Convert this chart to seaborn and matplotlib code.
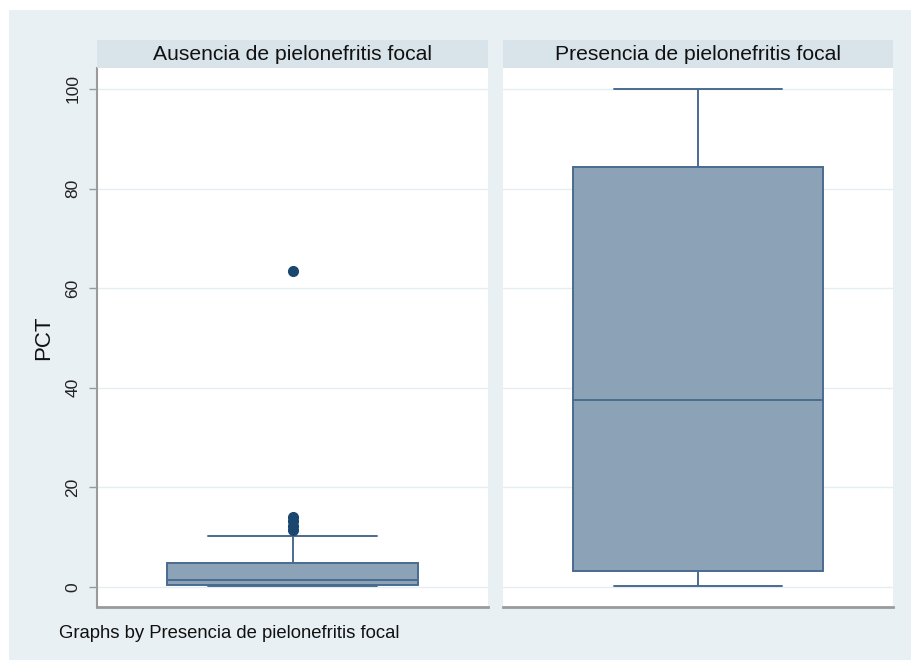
import numpy as np
import pandas as pd
import matplotlib
matplotlib.use("Agg")
import matplotlib.pyplot as plt
import seaborn as sns
from matplotlib.patches import Rectangle

# ---- data ----
panels = ["Ausencia de pielonefritis focal", "Presencia de pielonefritis focal"]
pct_ausencia = [0.2, 0.3, 0.3, 0.4, 0.4, 0.5, 0.5, 0.7, 0.9, 1.0, 1.2, 1.4, 1.5,
                1.8, 2.2, 2.7, 3.3, 4.0, 4.8, 10.2, 11.4, 12.3, 13.2, 14.0, 63.5]
pct_presencia = [0.3, 0.5, 0.8, 1.2, 1.8, 2.5, 3.2, 6.0, 10.0, 15.0, 21.0, 29.0, 37.5,
                 45.0, 52.0, 60.0, 68.0, 76.0, 84.3, 88.0, 91.0, 94.0, 96.5, 98.5, 100.0]
yticks = [0, 20, 40, 60, 80, 100]
ylabel = "PCT"
footer = "Graphs by Presencia de pielonefritis focal"

df = pd.DataFrame({
    "grupo": [panels[0]] * len(pct_ausencia) + [panels[1]] * len(pct_presencia),
    "PCT": pct_ausencia + pct_presencia,
})

sns.set_theme(style="white")
plt.rcParams["font.family"] = ["Liberation Sans", "DejaVu Sans"]

BG = "#e8f0f3"
STRIP = "#d8e4ea"
FACE = "#8ca2b7"
EDGE = "#4a6b90"
DOT = "#1a476f"
GRID = "#e4edf0"
AX = "#9a9a9a"

W, H = 911, 660
fig = plt.figure(figsize=(W / 100, H / 100), dpi=100, facecolor=BG)
# white margins top and left
fig.patches.append(Rectangle((0, 1 - 10 / H), 1, 10 / H, transform=fig.transFigure,
                             facecolor="white", edgecolor="none", zorder=-1))
fig.patches.append(Rectangle((0, 0), 9 / W, 1, transform=fig.transFigure,
                             facecolor="white", edgecolor="none", zorder=-1))

def fx(px):
    return px / W

def fy(py):
    return 1 - py / H

lefts = [97, 503]
rights = [488, 893]
top_plot, bot_plot = 68, 607
strip_top = 40

for i, name in enumerate(panels):
    l, r = lefts[i], rights[i]
    ax = fig.add_axes([fx(l), fy(bot_plot), fx(r - l), (bot_plot - top_plot) / H])
    ax.set_facecolor("white")
    sub = df[df["grupo"] == name]
    sns.boxplot(data=sub, y="PCT", ax=ax, width=0.64, saturation=1,
                color=FACE, linecolor=EDGE, linewidth=1.4, whis=1.5,
                flierprops=dict(marker="o", markerfacecolor=DOT, markeredgecolor=DOT,
                                markersize=7),
                medianprops=dict(color=EDGE, linewidth=1.4),
                capwidths=0.43)
    ax.set_xlim(-0.5, 0.5)
    ax.set_ylim(-4.0, 104.2)
    ax.set_yticks(yticks)
    ax.set_xticks([])
    ax.set_xlabel("")
    ax.grid(axis="y", color=GRID, linewidth=1.0)
    ax.set_axisbelow(True)
    for s in ["top", "right"]:
        ax.spines[s].set_visible(False)
    ax.spines["bottom"].set_color(AX)
    ax.spines["bottom"].set_linewidth(2.0)
    if i == 0:
        ax.spines["left"].set_color(AX)
        ax.spines["left"].set_linewidth(1.5)
        ax.tick_params(axis="y", left=True, length=6, width=1, color=AX,
                       labelsize=12.5, pad=6, labelcolor="#222222")
        for t in ax.get_yticklabels():
            t.set_rotation(90)
            t.set_va("center")
        ax.set_ylabel(ylabel, fontsize=16, labelpad=8, color="#111111")
    else:
        ax.spines["left"].set_visible(False)
        ax.tick_params(axis="y", left=False, labelleft=False)
        ax.set_ylabel("")

    sax = fig.add_axes([fx(l), fy(top_plot), fx(r - l), (top_plot - strip_top) / H])
    sax.set_facecolor(STRIP)
    sax.set_xticks([]); sax.set_yticks([])
    for s in sax.spines.values():
        s.set_visible(False)
    sax.text(0.5, 0.5, name, ha="center", va="center", fontsize=15.2, color="#111111",
             transform=sax.transAxes)

fig.text(fx(59), fy(633), footer, ha="left", va="center", fontsize=13.3, color="#111111")

fig.savefig("out.png", dpi=100, facecolor=BG)
